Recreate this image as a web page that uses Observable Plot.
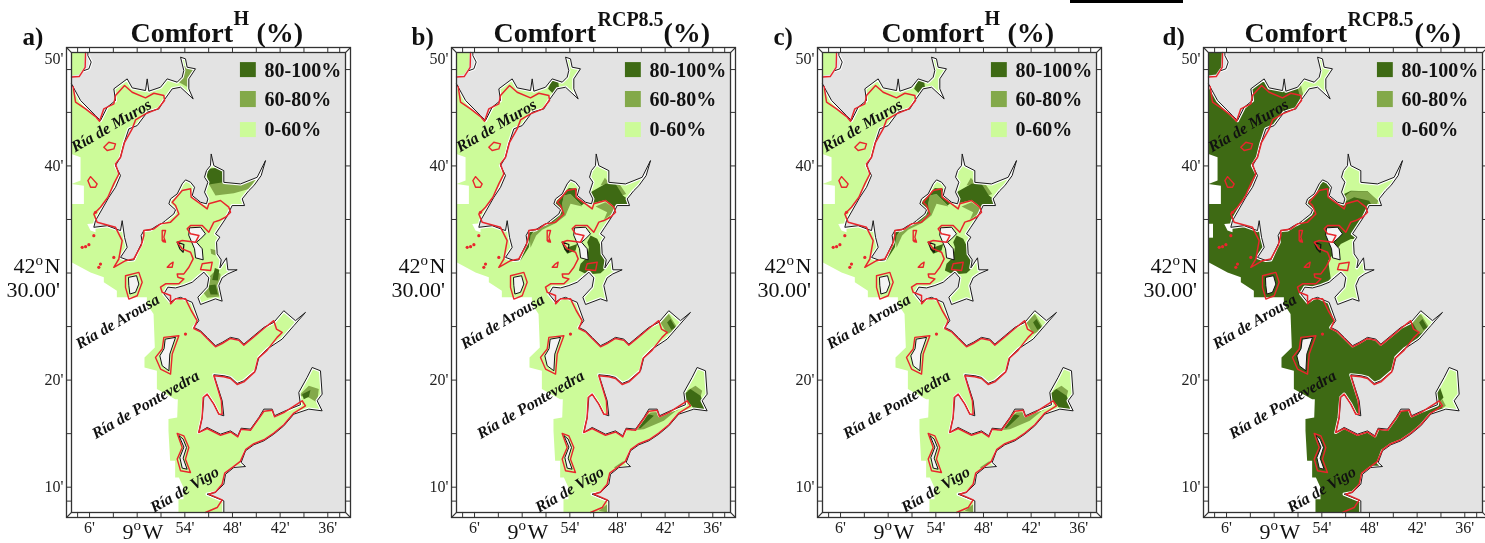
<!DOCTYPE html>
<html>
<head>
<meta charset="utf-8">
<script src="https://cdn.jsdelivr.net/npm/d3@7"></script>
<script src="https://cdn.jsdelivr.net/npm/@observablehq/plot@0.6"></script>
<style>
html,body{margin:0;padding:0;background:#fff;}
#chart{position:relative;width:1485px;height:543px;overflow:hidden;}
#chart svg{position:absolute;top:0;background:none;filter:blur(0.35px);}
#bar{position:absolute;left:1070px;top:0;width:113px;height:3px;background:#000;}
</style>
</head>
<body>
<div id="chart"><div id="bar"></div></div>
<script>
// All map coordinates: [minutes east of 9°W, minutes north of 42°N]
const coast = [[-8.27,47.66],[-7.13,46.11],[-5.25,44.7],[-4.62,44.24],[-3.78,45.48],[-2.73,46.11],[-2.94,47.2],[-1.26,48.13],[-0.63,47.29],[1.05,47.04],[1.26,48.13],[1.47,46.98],[2.94,47.35],[3.78,48.13],[5.04,47.82],[5.67,48.29],[5.87,48.91],[5.46,50.16],[6.08,50],[6.29,49.22],[7.34,49.07],[6.5,48.13],[6.5,47.2],[7.05,46.26],[5.46,47.35],[4.41,47.2],[3.36,46.11],[2.73,45.33],[1.26,45.02],[0,43.77],[-1.05,43.46],[-1.68,42.06],[-2.1,40.81],[-2.73,40.03],[-2.1,39.1],[-2.73,38.01],[-3.57,37.07],[-4.41,35.98],[-5.25,34.89],[-5.46,34.27],[-3.78,34.42],[-2.1,33.96],[-1.89,34.89],[-1.59,33.33],[-1.26,32.4],[-2.1,31.46],[-1.05,31.17],[-0.42,31.23],[-0.08,31.79],[0.21,32.26],[0.63,32.88],[0.5,33.5],[0.84,33.97],[1.68,34.03],[2.52,34.43],[3.15,34.65],[3.57,34.9],[4.62,35.52],[4.83,35.9],[3.99,36.46],[4.2,36.92],[5.04,37.39],[5.67,38.33],[6.09,38.7],[6.72,38.48],[7.22,38.01],[6.93,37.24],[7.98,36.61],[8.73,36.46],[8.9,36.92],[8.48,37.55],[8.9,38.48],[8.48,38.95],[8.73,39.57],[9.23,40.03],[9.32,41.12],[9.65,40.03],[10.91,39.56],[10.91,38.47],[13.01,38.32],[15.11,38.94],[16.16,40.5],[15.61,39.1],[14.69,38.16],[14.06,37.7],[13.22,36.92],[13.52,36.3],[11.96,36.3],[11.25,35.21],[10.41,34.28],[9.86,33.66],[10.41,33.35],[9.99,32.88],[10.07,31.79],[10.58,31.23],[10.41,30.48],[11.25,31.42],[11.42,30.3],[12.59,30.3],[11.42,29.92],[10.7,29.55],[10.28,28.83],[10.7,27.37],[9.86,27.59],[7.98,27.06],[7.64,27.74],[8.81,28.68],[9.02,29.55],[8.4,30.08],[7.56,29.55],[6.93,29.14],[5.88,28.83],[4.83,28.61],[3.86,28.68],[3.36,28.05],[4.2,27.28],[4.83,27.59],[5.46,27.73],[6.92,27.26],[7.76,25.55],[7.13,24.92],[7.97,24.61],[8.81,23.99],[9.86,23.21],[10.7,23.52],[11.75,23.99],[12.8,23.83],[13.43,23.36],[14.69,24.14],[15.95,24.92],[17.2,25.39],[18.46,26.48],[19.93,25.55],[21.19,26.32],[19.72,25.08],[18.25,23.83],[16.37,22.9],[15.32,22.12],[14.9,20.87],[13.43,19.94],[12.59,19.69],[11.75,20.25],[10.91,20.41],[9.65,20.5],[10.7,18.07],[10.91,16.67],[10.28,16.82],[9.65,17.76],[8.81,18.69],[8.39,18.38],[8.18,16.51],[7.76,15.11],[8.81,15.58],[10.49,14.95],[11.75,15.26],[12.67,14.8],[13.09,15.51],[14.27,15.42],[15.32,16.51],[15.95,17.29],[17,17.29],[17.29,16.67],[18.46,17.07],[20.56,17.7],[20.35,18.85],[21.4,20.25],[22.03,21.18],[23.08,20.87],[23.29,18.69],[22.66,18.07],[23.29,17.13],[21.61,17.29],[19.72,16.82],[18.46,15.73],[17.2,14.95],[15.95,14.33],[14.69,13.96],[13.64,13.4],[13.09,12.31],[13.64,11.93],[12.17,11.84],[11.12,11.21],[10.91,10.28],[9.86,9.5],[8.81,9.35],[10.91,8.72],[10.91,7.64]];
const westEdge = [[5.2,7.64],[5.2,8.88],[5.83,8.88],[5.83,9.97],[5.25,10.9],[4.78,10.9],[4.78,12.46],[4.15,12.46],[3.94,15.26],[3.94,16.36],[5.04,16.51],[5.12,18.22],[4.78,18.22],[2.48,19.16],[2.48,20.87],[0.92,21.18],[0.92,22.12],[2.22,23.05],[2.06,26.17],[1.22,27.1],[1.22,27.73],[-2.56,27.73],[-2.56,28.35],[-4.2,29.13],[-4.2,29.6],[-5.87,30.06],[-8.27,31],[-8.27,36.45],[-6.71,36.45],[-6.71,38.16],[-8.27,38.32],[-7.13,38.63],[-7.13,40.81],[-8.27,41.12]];
const landCorners = [[26.23,7.64],[26.23,50.59],[-8.27,50.59]];
const northPatch = [[-8.27,50.59],[-6.6,50.59],[-6.71,49.22],[-7.34,48.54],[-8.27,48.44]];
const northCoast = [[-6.21,50.59],[-6.21,50.3],[-5.79,49.7],[-6.08,49.07],[-6.71,48.9]];
const sandbank = [[-6.29,34.58],[-5.25,34.64],[-5.25,33.8],[-5.88,33.96]];

const redMuros = [[-8.06,47.41],[-7.76,45.95],[-6.5,45.33],[-5.25,44.61],[-4.74,44.17],[-4.2,45.33],[-2.94,45.79],[-2.73,46.57],[-1.59,47.51],[-0.63,46.88],[1.05,46.36],[2.1,46.79],[3.36,46.57],[3.44,46.11],[2.6,45.33],[1.05,44.86],[-0.21,44.3],[-0.63,43.46],[-1.59,42.21],[-2.1,40.81],[-2.73,40.19],[-2.31,39.25],[-2.94,38.32],[-3.69,37.07],[-4.62,36.14],[-5.46,35.51],[-5.04,34.74],[-2.73,34.27],[-1.89,33.02],[-2.31,31.31],[-2.94,30.53],[-1.47,31.15],[-0.42,31.32]];
const redRias = [[-0.42,31.32],[0.5,32.57],[0.84,33.5],[0.84,33.97],[2.1,34.12],[2.94,34.59],[4.2,34.75],[5.25,35.52],[4.83,36.3],[4.41,36.61],[5.67,37.7],[6.72,37.86],[6.8,37.08],[7.98,36.46],[8.82,35.99],[9.02,36.46],[10.49,36.77],[11.54,36.15],[11.75,35.68],[11.12,35.21],[10.28,34.9],[9.65,34.75],[9.02,33.81],[8.19,34.43],[6.72,34.43],[6.3,34.12],[6.72,33.66],[7.77,33.5],[7.35,32.88],[5.67,33.03],[5.04,32.88],[5.67,32.26],[6.72,31.94],[7.05,31.32],[6.51,30.54],[5.88,29.92],[5.04,29.92],[5.12,29.61],[5.88,29.45],[5.25,28.99],[3.57,28.99],[2.94,28.68],[3.15,28.21],[4.2,27.9],[4.2,27.12],[4.83,27.59],[6.09,27.59],[6.8,26.5],[7.55,25.55],[7.13,24.82],[7.97,24.51],[8.81,23.89],[9.86,23.11],[10.7,23.42],[11.75,23.89],[12.8,23.73],[13.43,23.26],[14.69,24.04],[15.95,24.82],[17.2,25.55],[17.54,24.77],[18.25,24.45],[17.62,23.99],[16.37,22.8],[15.22,22.02],[14.8,20.77],[13.43,19.84],[12.59,19.59],[11.75,20.15],[10.91,20.31],[9.65,20.4],[10.6,18.07],[10.7,16.82],[10.28,16.82],[9.65,17.76],[8.81,18.69],[8.31,18.38],[8.18,16.51],[7.76,15.11],[8.81,15.48],[10.49,14.85],[11.75,15.16],[12.67,14.7],[13.09,15.41],[14.27,15.32],[15.32,16.41],[15.95,17.09],[17,17.19],[17.29,16.57],[18.46,16.97],[20.77,18.07],[21.19,17.6],[19.72,16.92],[18.46,15.83],[17.2,15.05],[15.95,14.43],[14.69,14.06],[13.64,13.5],[12.99,12.41],[12.17,11.94],[11.02,11.31],[10.7,10.28],[9.86,9.55],[9.02,9.35],[10.7,8.82],[10.07,8.1],[8.6,7.64]];
const redNorth = [[-8.27,48.3],[-7.3,48.35],[-6.55,49.2],[-6.5,50.59]];
const redLoops = [
  [[-4.2,41.75],[-3.57,42.21],[-2.73,42.06],[-2.94,41.59],[-3.78,41.44]],
  [[-6.21,38.63],[-5.87,39],[-5.04,38.32],[-5.25,38.01],[-5.87,38.01]],
  [[3.15,33.97],[3.57,33.97],[3.36,33.35],[3.57,32.88],[3.15,33.03]],
  [[4.2,30.86],[4.53,31.01],[4.41,30.54],[3.78,30.54]],
  [[8.19,30.86],[9.45,31.01],[9.24,30.23],[7.98,30.33]],
  [[-1.47,29.75],[0.21,30.06],[0.63,29.13],[0,27.88],[-1.05,27.57],[-1.47,28.66]],
  [[3.36,23.99],[5.25,24.14],[4.41,22.43],[4.2,20.56],[2.94,21.03],[2.31,22.12],[3.15,22.9]],
  [[5.04,15.02],[5.87,14.8],[6.5,13.71],[6.08,12.62],[6.71,11.37],[5.46,11.53],[5.04,12.62],[5.67,13.71]]
];
const redDots = [[-5.46,33.49],[-6.92,32.4],[-6.08,32.65],[-6.5,32.46],[-4.62,30.84],[-4.83,30.53],[-2.94,31.46],[-5.25,35.67],[6.08,24.3],[3.36,33]];

const islands = [
  [[-1.05,29.6],[-0.08,29.75],[0.21,28.97],[-0.21,28.2],[-0.92,28.04],[-1.05,28.82]],
  [[3.57,23.83],[4.83,23.99],[4.11,22.43],[3.99,20.87],[3.15,21.34],[2.85,22.27],[3.36,22.9]],
  [[5.29,14.8],[5.79,14.49],[6.21,13.71],[5.79,12.71],[6.29,11.68],[5.67,11.78],[5.37,12.77],[5.87,13.71]],
  [[6.63,34.22],[7.98,34.28],[8.6,33.66],[7.98,33.19],[7.47,32.88],[8.19,32.26],[8.31,31.23],[7.35,31.42],[7.22,32.26],[6.51,33.5]]
];
const islet = [[5.04,32.88],[5.88,32.66],[5.79,31.94],[5.37,32.26]];

// Comfort classes
const levels = ["80-100%", "60-80%", "0-60%"];
const levelColors = ["#3e6a14", "#83a94a", "#ccfb99"];
const patchColors = [...levelColors, "#fff"];
const legendTop = [49.65, 46.95, 44.05];
const legendBottom = [48.25, 45.45, 42.65];

// Panel a patches
const aMurosMid = [[5.67,49.38],[7.34,49.07],[6.5,48.13],[6.71,47.2],[5.67,47.66],[4.83,47.98]];
const aUllaDark = [[8.6,39.72],[10.7,39.88],[10.83,38.47],[9.02,38.26]];
const aUllaMid = [[9.02,38.32],[10.91,38.63],[13.01,38.38],[15.11,38.94],[14.06,37.85],[12.17,37.45],[9.86,37.23]];
const aGroveMid = [[8.4,29.14],[9.86,30.23],[10.49,29.92],[10.41,27.81],[8.81,27.68],[8.19,28.3]];
const aGroveMid2 = [[9.23,32.26],[10.07,32.1],[9.86,31.63],[9.32,31.79]];
const aGroveDark = [[8.9,28.83],[9.86,28.93],[10.16,28],[9.24,28]];
const aGroveDark2 = [[9.78,30.48],[10.33,30.3],[10.16,29.3],[9.45,29.36]];
const aVigoMid = [[20.35,18.54],[21.61,19.47],[22.87,19.16],[22.66,17.91],[21.61,18.38]];
const aVigoDark = [[20.77,18.69],[21.82,19.07],[21.61,18.44],[20.98,18.22]];

// Panels b and c patches
const bMurosDark = [[3.27,47.2],[3.9,48.29],[4.53,47.98],[4.62,47.35],[3.9,46.73]];
const bUllaMid = [[9.86,38.17],[10.41,38.89],[10.91,38.48],[12.09,38.48],[13.1,37.39],[12.59,37.24],[11.67,38.26],[10.41,38.26]];
const bUllaDark = [[8.4,36.92],[8.61,37.55],[10.49,38.33],[11.75,38.33],[12.68,37.24],[13.52,36.77],[13.35,36.3],[11.96,36.21],[11,35.21],[10.07,34.75],[11.67,35.68],[11.42,36.3],[10.49,36.83],[8.9,36.52]];
const bBayMid = [[9.24,36.21],[10.49,36.61],[11.42,36.15],[11.54,35.68],[10.28,34.96],[10.7,35.68]];
const bBandMid = [[5.25,37.24],[6.09,37.39],[7.56,36.21],[6.09,36.46],[5.46,35.37],[4.2,34.65],[2.52,34.03],[1.76,33.5],[1.47,33.03],[1.05,32.35],[0.92,33.5],[2.31,34.28],[3.99,34.9],[5.04,35.68],[5.04,36.46]];
const bBandDark = [[4.41,36.77],[5.88,37.95],[6.93,37.86],[6.93,37.24],[7.98,36.61],[7.47,36.3],[6.09,37.39],[5.25,37.24],[5.04,36.46],[5.12,35.59],[3.99,34.84],[2.52,34.22],[1.47,33.91],[1.05,33.5],[0.84,32.41],[-0.21,31.17],[-0.42,31.42],[0.5,32.57],[0.67,33.97],[2.52,34.5],[3.57,34.96],[4.83,35.9],[4.11,36.46]];
const bGroveDark = [[8.61,33.5],[9.45,33.19],[9.86,32.57],[10.37,31.32],[10.49,30.39],[9.86,29.98],[8.19,29.86],[7.14,30.23],[7.35,30.86],[8.19,31.48],[8.4,32.41],[8.19,32.88]];
const bInnerDark = [[5.25,32.26],[6.93,32.72],[6.72,32.1],[5.67,31.79]];
const pontMid = [[17.41,25.39],[18.46,26.17],[19.64,24.77],[18.25,24.3]];
const pontDark = [[18.25,25.39],[18.67,25.7],[19.3,24.92],[18.8,24.67]];
const bVigoMid = [[20.77,19],[21.82,19.47],[22.66,19],[22.45,18.38]];
const bVigoDark = [[20.14,18.54],[21.19,19.16],[22.45,18.54],[23.21,17.29],[21.82,17.13],[20.98,17.91]];
const bChannelMid = [[13.64,15.26],[16.16,16.98],[19.51,17.13],[20.14,17.6],[17.83,16.2],[15.32,15.42]];
const bChannelDark = [[14.06,15.58],[15.95,16.82],[16.58,16.67],[14.9,15.51]];
const bSouthMid = [[11.54,11.84],[12.8,12.46],[12.17,11.68]];
const bBottomMid = [[9.65,7.8],[10.7,8.41],[10.8,7.64]];

// Panel d patches (light over a fully dark sea)
const dMurosLight = [[3.15,47.98],[3.69,46.36],[5.04,45.48],[8.81,46.11],[8.81,50.5],[3.78,50.5]];
const dMurosMid = [[2.73,47.82],[3.23,47.98],[3.73,46.36],[3.36,46.23]];
const dUllaLight = [[7.97,37.07],[9.65,37.69],[11.75,37.63],[13.01,36.76],[12.5,35.83],[12.5,34.89],[18.46,34.89],[18.46,41.43],[7.97,41.43]];
const dUllaMid = [[8.18,36.76],[9.65,37.63],[11.75,37.63],[13.09,36.76],[12.67,35.76],[11.96,36.76],[10.07,37.07],[8.81,36.6]];
const dGroveLight = [[6.8,31.15],[8.39,32.71],[9.65,33.18],[13.01,33.18],[13.01,26.79],[7.13,26.79],[7.13,29.44]];
const dVigoLight = [[20.77,17.91],[21.32,18.38],[19.72,21.81],[24.76,21.81],[24.76,16.2],[21.61,16.98]];
const dVigoMid = [[20.77,17.91],[21.19,18.22],[21.61,17.6],[21.19,17.38]];
const dPontLight = [[18.04,26.64],[21.82,26.64],[21.82,24.3],[19.72,24.61],[18.46,25.86]];
const dGapWest = [[-8.27,34.6],[-7.7,34.6],[-7.7,33.3],[-8.27,33.3]];

const patchesA = [[3,sandbank],[1,aMurosMid],[1,aUllaMid],[0,aUllaDark],[1,aGroveMid],[1,aGroveMid2],[0,aGroveDark],[0,aGroveDark2],[1,aVigoMid],[0,aVigoDark]];
const patchesB = [[3,sandbank],[0,bMurosDark],[1,bUllaMid],[0,bUllaDark],[1,bBayMid],[1,bBandMid],[0,bBandDark],[0,bGroveDark],[0,bInnerDark],[1,pontMid],[0,pontDark],[1,bVigoMid],[0,bVigoDark],[1,bChannelMid],[0,bChannelDark],[1,bSouthMid],[1,bBottomMid]];
const patchesD = [[3,sandbank],[3,dGapWest],[2,dMurosLight],[1,dMurosMid],[2,dUllaLight],[1,dUllaMid],[2,dGroveLight],[2,dVigoLight],[1,dVigoMid],[2,dPontLight],[1,pontMid],[0,pontDark]];

// Place names
const placeNames = ["Ría de Muros", "Ría de Arousa", "Ría de Pontevedra", "Ría de Vigo"];
const placeX = [-3.26, -2.48, 1.05, 5.96];
const placeY = [43.77, 25.47, 17.72, 9.79];

// Axis values
const xLabelled = [-6, 6, 12, 18, 24];
const yLabelled = [50, 40, 20, 10];
const xEdgeTicks = [-7.5,-6,-3,0,3,6,9,12,15,18,21,24,25.5];
const yEdgeTicks = [49,45,40,35,30,25,20,15,10,8.7];

const outer = {x1:-8.9, x2:26.86, y1:7.17, y2:51.06};
const inner = {x1:-8.27, x2:26.23, y1:7.64, y2:50.59};

const serif = "Liberation Serif";
const ring = (pts, opts) => Plot.line(pts, {x:d=>d[0], y:d=>d[1], curve:"linear-closed", ...opts});
const path = (pts, opts) => Plot.line(pts, {x:d=>d[0], y:d=>d[1], ...opts});
const label = (str, dx, baseline, size, extra={}) => Plot.text([str], {
  text:d=>d, frameAnchor:"top-left", textAnchor:"start", lineAnchor:"bottom",
  dx, dy:baseline-47, fontSize:size, fontFamily:serif, fill:"#111", ...extra});

function panel({left, letter, letterX, titleX, sup, supX, supBase, supSize, closeX, seaColor, patches}) {
  const bold = {fontWeight:"bold"};
  const marks = [
    Plot.frame({inset:5, fill:"#fff", stroke:"none"}),
    ring(coast.concat(westEdge), {fill:levelColors[seaColor], stroke:"none"}),
    ...patches.map(([lv, pts]) => ring(pts, {fill:patchColors[lv], stroke:"none"})),
    path(coast, {stroke:"#fff", strokeWidth:3.2}),
    ring(coast.concat(landCorners), {fill:"#e3e3e3", stroke:"none"}),
    ring(northPatch, {fill:levelColors[seaColor], stroke:"none"}),
    path(northCoast, {stroke:"#fff", strokeWidth:3}),
    ...islands.map(pts => ring(pts, {fill:"#f4f4f4", stroke:"#111", strokeWidth:1})),
    ring(islet, {fill:"none", stroke:"#111", strokeWidth:1.2}),
    path(coast, {stroke:"#1a1a1a", strokeWidth:1}),
    path(northCoast, {stroke:"#1a1a1a", strokeWidth:1}),
    path(redMuros, {stroke:"#e8262c", strokeWidth:1.5}),
    path(redRias, {stroke:"#e8262c", strokeWidth:1.5}),
    path(redNorth, {stroke:"#e8262c", strokeWidth:1.4}),
    ...redLoops.map(pts => ring(pts, {stroke:"#e8262c", strokeWidth:1.4, fill:"none"})),
    Plot.dot(redDots, {x:d=>d[0], y:d=>d[1], r:1.6, fill:"#e8262c"}),
    Plot.frame({inset:5, stroke:"#333", strokeWidth:1.3}),
    Plot.frame({stroke:"#333", strokeWidth:1.3}),
    Plot.link([[outer.x1,outer.y1,inner.x1,inner.y1],[outer.x1,outer.y2,inner.x1,inner.y2],[outer.x2,outer.y1,inner.x2,inner.y1],[outer.x2,outer.y2,inner.x2,inner.y2]],
      {x1:"0", y1:"1", x2:"2", y2:"3", stroke:"#333", strokeWidth:1.1}),
    Plot.ruleX(xEdgeTicks, {x:d=>d, y1:outer.y1, y2:inner.y1, stroke:"#333"}),
    Plot.ruleX(xEdgeTicks, {x:d=>d, y1:inner.y2, y2:outer.y2, stroke:"#333"}),
    Plot.ruleY(yEdgeTicks, {y:d=>d, x1:outer.x1, x2:inner.x1, stroke:"#333"}),
    Plot.ruleY(yEdgeTicks, {y:d=>d, x1:inner.x2, x2:outer.x2, stroke:"#333"}),
    Plot.axisX({ticks:xLabelled, anchor:"bottom", tickSize:0, tickPadding:4.5, label:null,
      tickFormat:d=>`${d<0?-d:60-d}'`, fontSize:16, fontFamily:serif, fill:"#222"}),
    Plot.axisY({ticks:yLabelled, anchor:"left", tickSize:0, tickPadding:3, label:null,
      tickFormat:d=>`${d}'`, fontSize:16, fontFamily:serif, fill:"#222"}),
    Plot.text(placeNames, {x:(d,i)=>placeX[i], y:(d,i)=>placeY[i], text:d=>d, rotate:-30,
      fontSize:16, fontStyle:"italic", fontWeight:"bold", fontFamily:serif, fill:"#111"}),
    Plot.rect(levels, {x1:13, x2:15, y1:(d,i)=>legendBottom[i], y2:(d,i)=>legendTop[i], fill:(d,i)=>levelColors[i]}),
    Plot.text(levels, {x:16.03, y:(d,i)=>(legendBottom[i]+legendTop[i])/2, text:d=>d, textAnchor:"start",
      fontSize:20, fontWeight:"bold", fontFamily:serif, fill:"#111"}),
    label(letter, letterX-66, 44, 25, bold),
    label("Comfort", titleX-66, 41, 28, bold),
    label(sup, supX-66, supBase, supSize, bold),
    label("(%)", closeX-66, 41, 28, bold),
    label("42", 13-66, 272, 22),
    label("o", 35-66, 264, 15),
    label("N", 44-66, 272, 22),
    label("30.00'", 6-66, 296, 22),
    label("9", 122-66, 538, 22),
    label("o", 133-66, 529, 15),
    label("W", 142-66, 538, 22)
  ];
  const svg = Plot.plot({
    width:370, height:543, marginLeft:66, marginRight:20, marginTop:47, marginBottom:26,
    x:{domain:[outer.x1, outer.x2]}, y:{domain:[outer.y1, outer.y2]},
    style:{background:"none", overflow:"visible"},
    marks
  });
  svg.style.left = left + "px";
  document.getElementById("chart").appendChild(svg);
}

panel({left:0, letter:"a)", letterX:22, titleX:130, sup:"H", supX:233, supBase:24, supSize:20, closeX:256, seaColor:2, patches:patchesA});
panel({left:385, letter:"b)", letterX:26, titleX:108, sup:"RCP8.5", supX:212, supBase:25, supSize:20, closeX:278, seaColor:2, patches:patchesB});
panel({left:751, letter:"c)", letterX:22, titleX:130, sup:"H", supX:233, supBase:24, supSize:20, closeX:256, seaColor:2, patches:patchesB});
panel({left:1137, letter:"d)", letterX:25, titleX:107, sup:"RCP8.5", supX:210, supBase:25, supSize:20, closeX:277, seaColor:0, patches:patchesD});
</script>
</body>
</html>
